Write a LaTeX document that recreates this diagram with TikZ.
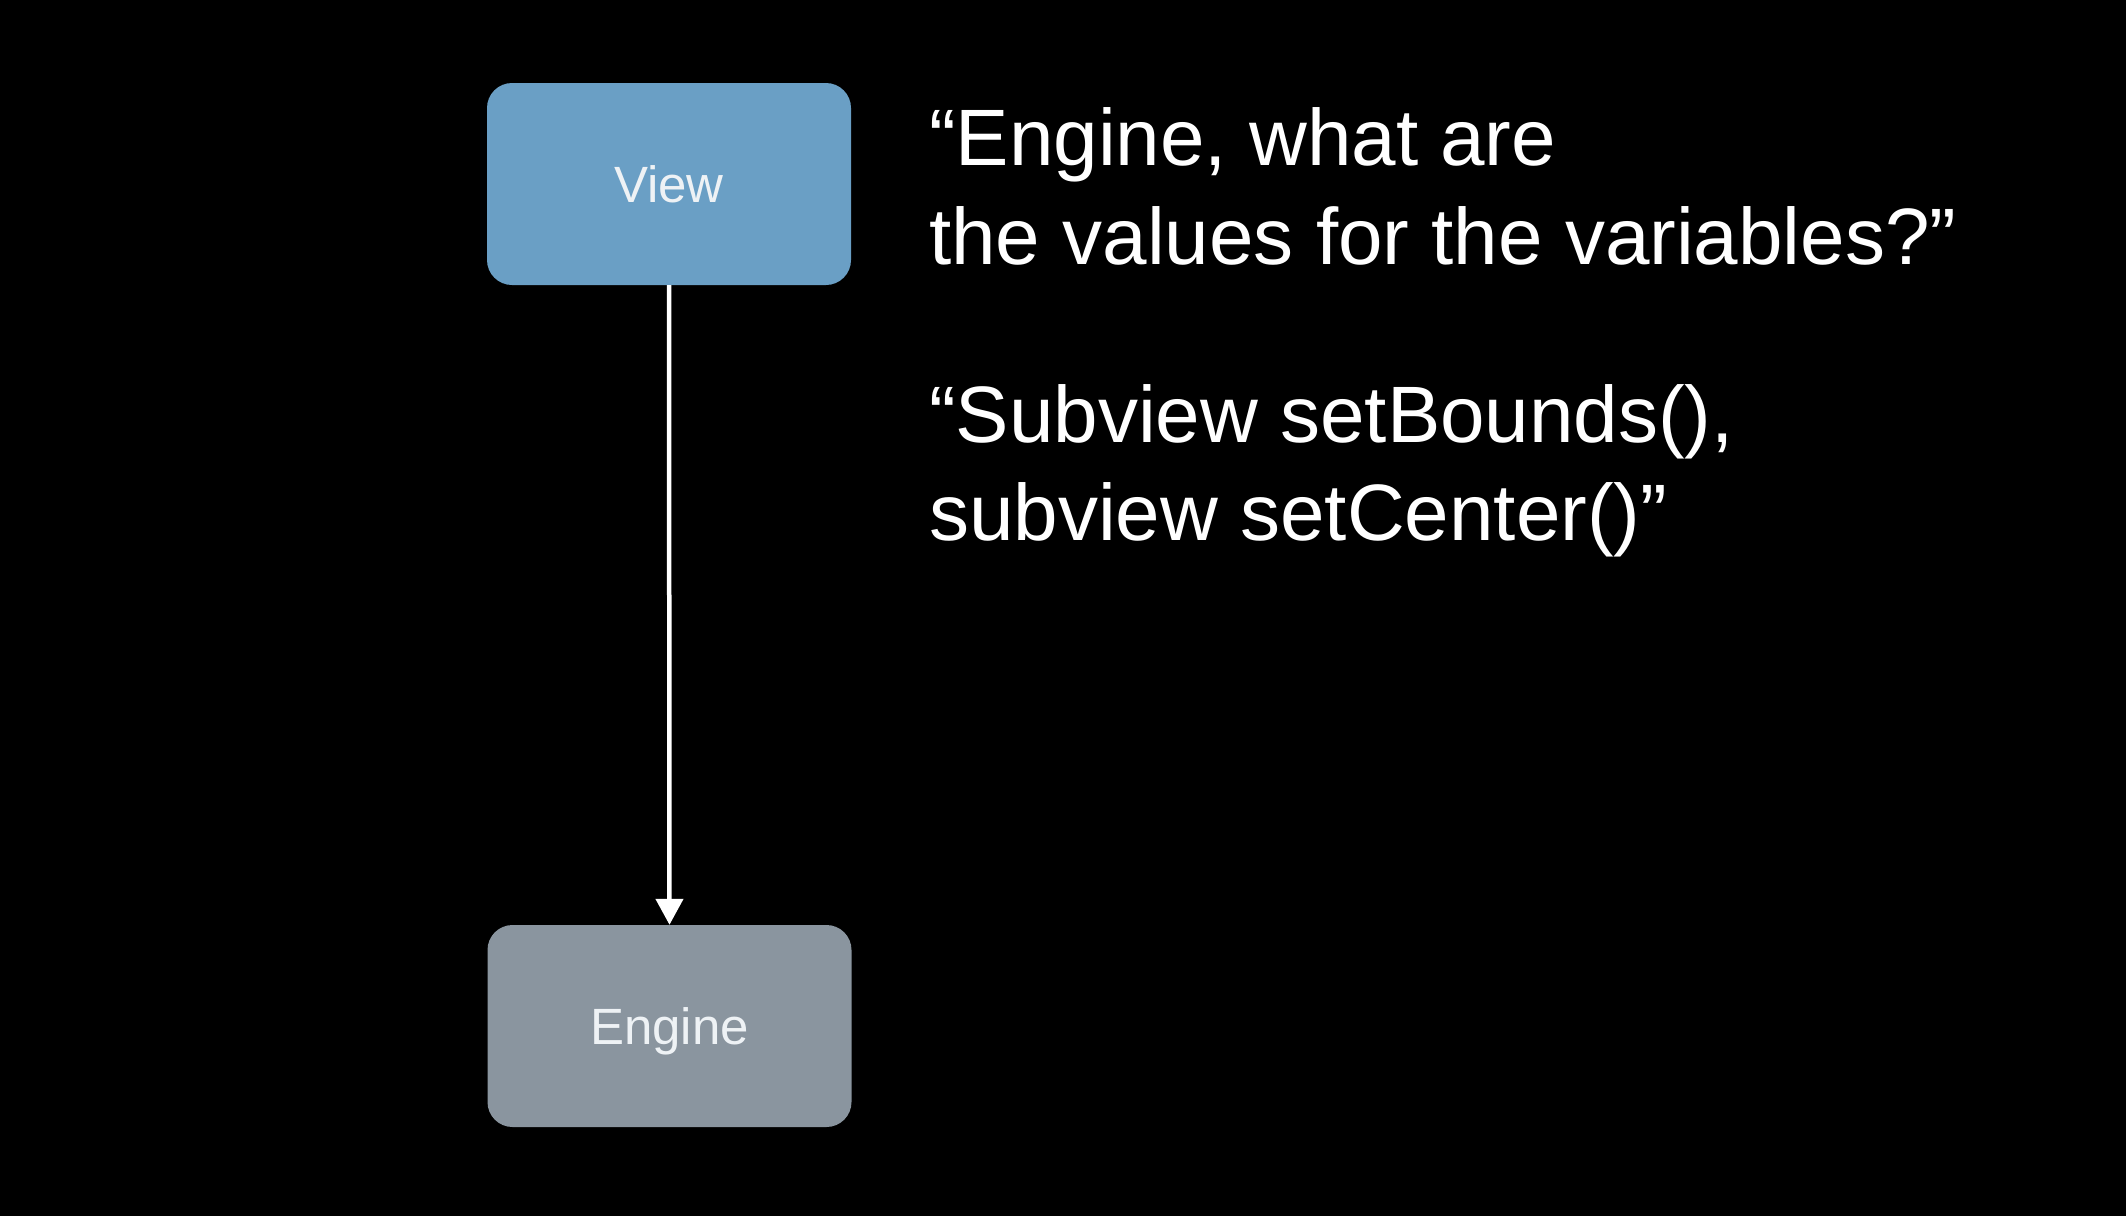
\documentclass[tikz,border=0pt]{standalone}
\usepackage{fontspec}
\setmainfont{Liberation Sans}
\usetikzlibrary{arrows.meta}
\definecolor{viewblue}{HTML}{6A9FC5}
\definecolor{enginegray}{HTML}{8A959F}
\definecolor{boxtext}{HTML}{EEF2F5}
\tikzset{
  box/.style={rounded corners=25pt, minimum width=364pt, minimum height=202pt, inner sep=0pt, text depth=0pt, text=boxtext, font=\fontsize{51}{60}\selectfont},
  quote/.style={anchor=base west, inner sep=0pt, text=white, font=\fontsize{80}{99}\selectfont},
  conn/.style={draw=white, line width=4.5pt, -{Triangle[width=27pt,length=26pt]}}
}
\begin{document}
\begin{tikzpicture}[x=1pt,y=-1pt]
\fill[black] (0,0) rectangle (2126,1216);
\useasboundingbox (0,0) rectangle (2126,1216);
\node[box, fill=viewblue] (view) at (669,184) {View};
\node[box, fill=enginegray] (engine) at (669.5,1026) {Engine};
\draw[conn] (view.south) -- (engine.north);
\node[quote] (q1a) at (929,165) {“Engine, what are};
\node[quote] (q1b) at (929,264) {the values for the variables?”};
\node[quote] (q2a) at (929,442) {“Subview setBounds(),};
\node[quote] (q2b) at (929,540) {subview setCenter()”};
\end{tikzpicture}
\end{document}
